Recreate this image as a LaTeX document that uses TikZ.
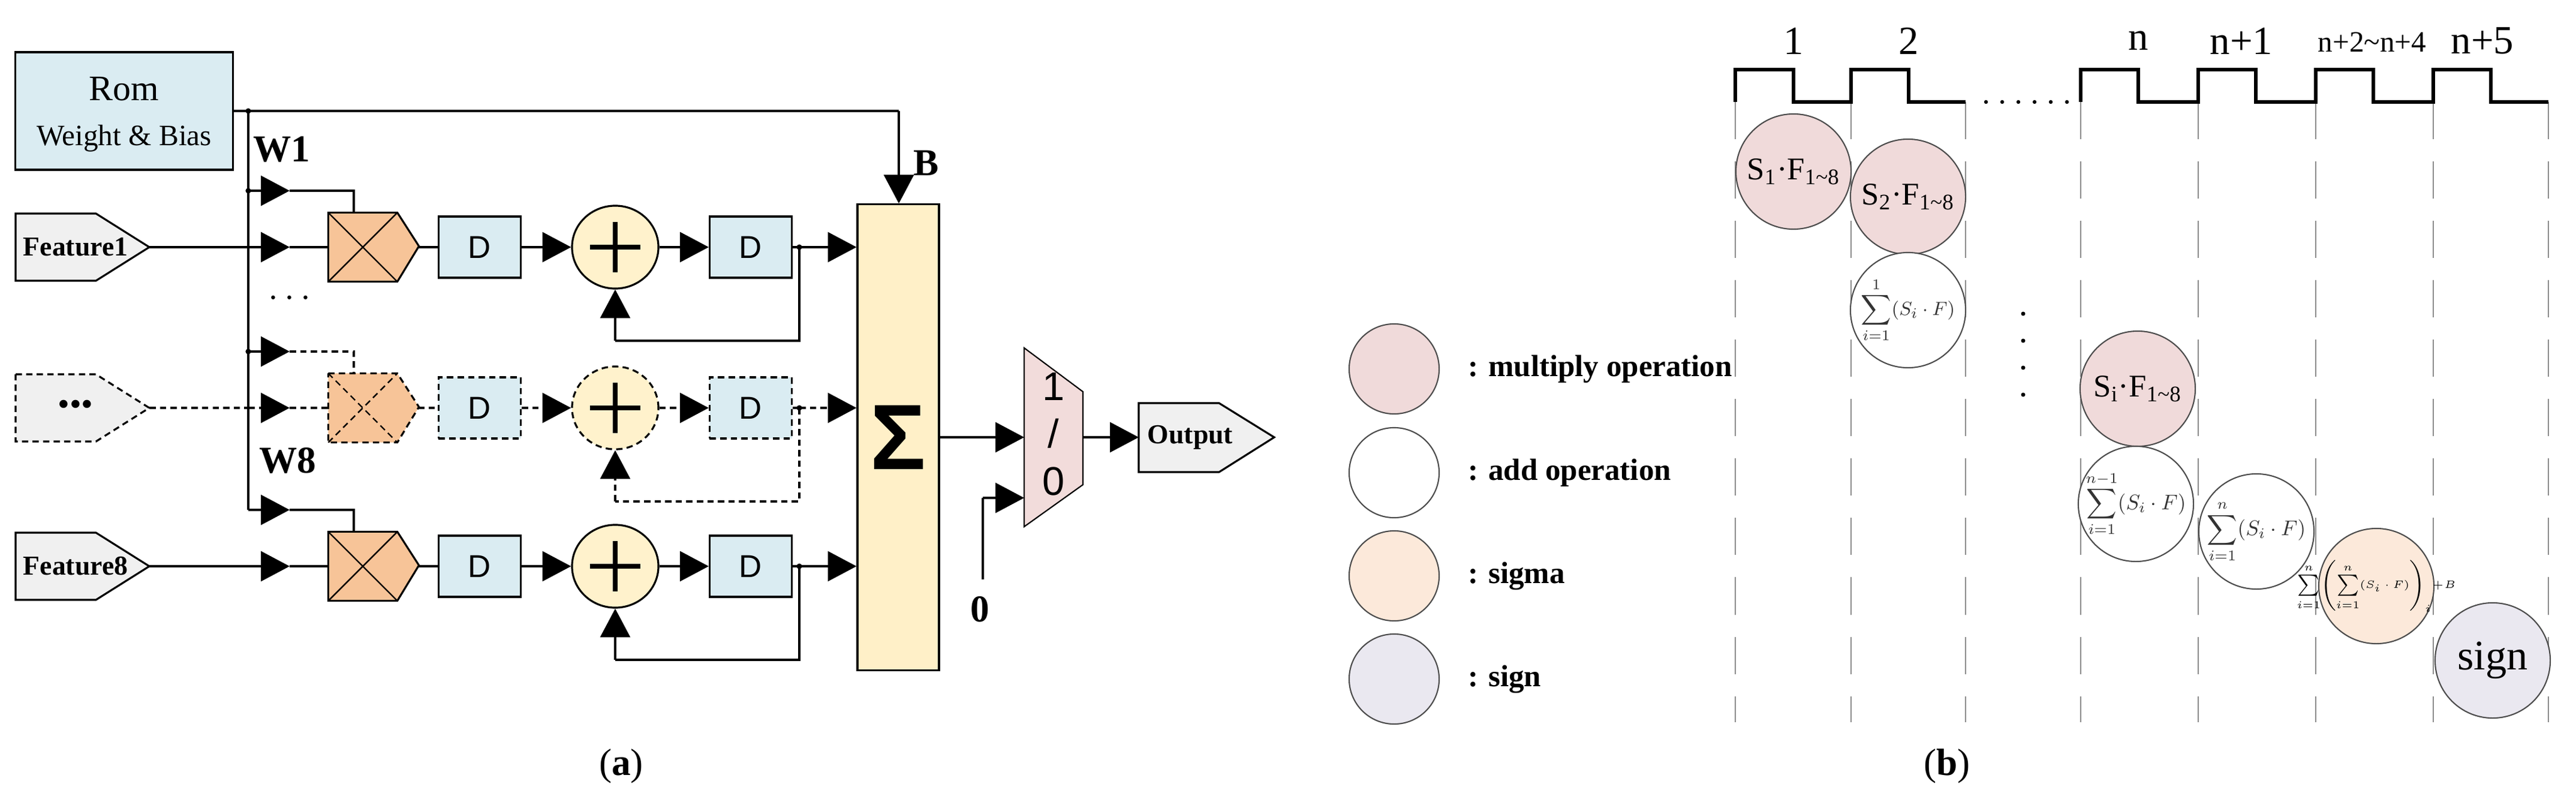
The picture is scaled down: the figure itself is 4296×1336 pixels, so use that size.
\documentclass[tikz,border=0pt]{standalone}
\usepackage{fontspec}
\setmainfont{Liberation Serif}
\setsansfont{Liberation Sans}
\usetikzlibrary{arrows.meta,shapes.geometric}
\definecolor{romb}{RGB}{218,236,242}
\definecolor{featg}{RGB}{240,240,240}
\definecolor{mulo}{RGB}{247,196,152}
\definecolor{addy}{RGB}{255,242,204}
\definecolor{sumy}{RGB}{255,240,200}
\definecolor{muxp}{RGB}{242,220,219}
\definecolor{lpink}{RGB}{240,218,218}
\definecolor{lpeach}{RGB}{252,233,218}
\definecolor{llav}{RGB}{234,232,240}
\begin{document}
\begin{tikzpicture}[x=0.01cm,y=-0.01cm,line width=0.9pt,
  arr/.style={-{Triangle[length=13.6pt,width=14.2pt]}},
  dsh/.style={dash pattern=on 3pt off 2pt},
  dbox/.style={rectangle,draw,fill=romb,inner sep=0pt,minimum width=13.7mm,minimum height=10.2mm,font=\sffamily\fontsize{15}{15}\selectfont},
  adder/.style={ellipse,draw,fill=addy,inner sep=0pt,minimum width=14.4mm,minimum height=13.8mm},
  dot/.style={circle,fill,inner sep=0pt,minimum size=2.6pt},
  op/.style={circle,draw=black!70,line width=0.6pt,inner sep=0pt,minimum size=19.2mm},
  lg/.style={circle,draw=black!70,line width=0.6pt,inner sep=0pt,minimum size=15mm},
  lt/.style={anchor=west,font=\bfseries\fontsize{14.5}{16}\selectfont},
  bl/.style={font=\bfseries\fontsize{18}{18}\selectfont},
  clk/.style={font=\fontsize{19}{19}\selectfont}]
\useasboundingbox (0,0) rectangle (4296,1336);

% ---------------- panel (a) ----------------
\node[rectangle,draw,fill=romb,minimum width=36.2mm,minimum height=19.6mm] (rom) at (207,185) {};
\node[font=\fontsize{17}{17}\selectfont] (romt) at (207,148) {Rom};
\node[font=\fontsize{14}{14}\selectfont] (romw) at (207,231) {Weight \& Bias};
\node[bl] (w1) at (470,249) {W1};
\node[bl] (w8) at (480,768) {W8};
\node[bl] (bl) at (1545,272) {B};
\node[bl] (zero) at (1634,1016) {0};
\node[font=\bfseries\fontsize{18}{18}\selectfont] (dots1) at (483,498) {$\cdots$};

\node[rectangle,draw,fill=sumy,inner sep=0pt,minimum width=13.6mm,minimum height=77.6mm,
      font=\sffamily\bfseries\fontsize{44}{44}\selectfont] (sig) at (1498,729) {Σ};
\coordinate (j0) at (414,185);
\coordinate (bt) at (1499,185);
\draw (rom.east |- j0) -- (bt);
\draw[arr] (bt) -- (sig.north -| bt);
\node[dot] at (j0) {};

\foreach \r/\Y/\st/\txt in {1/412/solid/\textbf{Feature1},2/680/dsh/{\fontsize{16}{16}\selectfont\textbullet\textbullet\textbullet},3/944/solid/\textbf{Feature8}}{
  \draw[\st,fill=featg] (26,\Y-56) -- (160,\Y-56) -- (249,\Y) -- (160,\Y+56) -- (26,\Y+56) -- cycle;
  \node[font=\fontsize{13}{13}\selectfont] (f\r) at (126,\Y) {\txt};
  \coordinate (fe\r) at (249,\Y);
  \coordinate (jb\r) at (414,\Y);
  \coordinate (ja\r) at (483,\Y);
  \coordinate (jw\r) at (414,\Y-94);
  \coordinate (aw\r) at (483,\Y-94);
  \coordinate (cw\r) at (590,\Y-94);
  % multiplier
  \node[rectangle,fill=mulo,inner sep=0pt,minimum width=11.2mm,minimum height=11.2mm] (m\r) at (605,\Y) {};
  \draw[\st,fill=mulo] (m\r.north west) -- (m\r.north east) -- ++(36,56) -- (m\r.south east) -- (m\r.south west) -- cycle;
  \draw[\st,line width=0.7pt] (m\r.north west) -- (m\r.south east) (m\r.south west) -- (m\r.north east);
  \coordinate (mt\r) at (697,\Y);
  \node[dbox,\st] (da\r) at (800,\Y) {D};
  \node[adder,\st] (ad\r) at (1026,\Y) {};
  \draw[line width=2.2pt] (ad\r.center) ++(0,-42) -- ++(0,84) (ad\r.center) ++(-42,0) -- ++(84,0);
  \node[dbox,\st] (db\r) at (1252,\Y) {D};
  \coordinate (dt\r) at (1333,\Y);
  \coordinate (fb\r) at (1333,\Y+156);
  \coordinate (fa\r) at (1026,\Y+156);
  % connectors
  \draw[\st] (fe\r) -- (jb\r);
  \draw[\st,arr] (jb\r) -- (ja\r);
  \draw[\st] (ja\r) -- (m\r.west);
  \draw[\st] (mt\r) -- (da\r.west);
  \draw[\st,arr] (da\r.east) -- (ad\r.west);
  \draw[\st,arr] (ad\r.east) -- (db\r.west);
  \draw[\st] (db\r.east) -- (dt\r);
  \draw[\st,arr] (dt\r) -- (sig.west |- dt\r);
  \node[dot] at (dt\r) {};
  \draw[\st] (dt\r) -- (fb\r) -- (fa\r);
  \draw[\st,arr] (fa\r) -- (ad\r.south);
  \draw[arr] (jw\r) -- (aw\r);
  \draw[\st] (aw\r) -- (cw\r) -- (cw\r |- m\r.north);
}
\draw (j0) -- (jw3);
\node[dot] at (jw1) {};
\node[dot] at (jw2) {};

% mux
\coordinate (mx1) at (1708,580);
\coordinate (mx2) at (1806,653);
\coordinate (mx3) at (1806,808);
\coordinate (mx4) at (1708,878);
\draw[fill=muxp,line width=0.6pt] (mx1) -- (mx2) -- (mx3) -- (mx4) -- cycle;
\node[font=\sffamily\fontsize{19}{19}\selectfont] (mxa) at (1757,645) {1};
\node[font=\sffamily\fontsize{19}{19}\selectfont] (mxb) at (1757,723) {/};
\node[font=\sffamily\fontsize{19}{19}\selectfont] (mxc) at (1757,802) {0};
\coordinate (mi1) at (1708,729);
\coordinate (mi2) at (1708,830);
\coordinate (z1) at (1639,966);
\coordinate (z2) at (1639,830);
\coordinate (mo) at (1806,729);
\draw[arr] (sig.east) -- (mi1);
\draw (z1) -- (z2);
\draw[arr] (z2) -- (mi2);
\draw[fill=featg] (1899,672) -- (2033,672) -- (2125,729) -- (2033,787) -- (1899,787) -- cycle;
\coordinate (ow) at (1899,729);
\node[font=\bfseries\fontsize{13}{13}\selectfont] (out) at (1985,729) {Output};
\draw[arr] (mo) -- (ow);

\node[font=\fontsize{18}{18}\selectfont] (capa) at (1036,1277) {(\textbf{a})};

% ---------------- panel (b) ----------------
\foreach \x in {2894,3087,3278,3470,3666,3862,4058,4250}{
  \draw[black!45,line width=0.8pt,dash pattern=on 6.2mm off 3.7mm] (\x,170) -- (\x,1204);
}
\draw[line width=1.5pt] (3278,170) -- (3183,170) -- (3183,116) -- (3087,116) -- (3087,170) -- (2991,170) -- (2991,116) -- (2894,116) -- (2894,170);
\draw[line width=1.5pt] (3470,170) -- (3470,116) -- (3566,116) -- (3566,170) -- (3666,170) -- (3666,116) -- (3762,116) -- (3762,170) -- (3862,170) -- (3862,116) -- (3958,116) -- (3958,170) -- (4058,170) -- (4058,116) -- (4154,116) -- (4154,170) -- (4250,170);
\foreach \i in {0,...,5}{ \fill (3312+\i*27,170) circle (3.2); }
\node[clk] (c1) at (2991,68) {1};
\node[clk] (c2) at (3183,68) {2};
\node[clk] (cn) at (3566,68) {n};
\node[clk] (cn1) at (3738,68) {n+1};
\node[font=\fontsize{14}{14}\selectfont] (cn2) at (3956,70) {n+2\textasciitilde n+4};
\node[clk] (cn5) at (4140,68) {n+5};
\foreach \yy in {523,568,613,658}{ \fill (3374,\yy) circle (3.5); }

\node[op,fill=lpink] (s1) at (2991,286) {};
\node[op,fill=lpink] (s2) at (3182,328) {};
\node[op,fill=white] (a1) at (3182,517) {};
\node[op,fill=lpink] (si) at (3565,648) {};
\node[op,fill=white] (an1) at (3562,840) {};
\node[op,fill=white] (an) at (3763,886) {};
\node[op,fill=lpeach] (sg) at (3963,977) {};
\node[op,fill=llav] (sn) at (4157,1101) {};
\node[font=\fontsize{15}{15}\selectfont] at (s1) {S\textsubscript{1}·F\textsubscript{1\textasciitilde 8}};
\node[font=\fontsize{15}{15}\selectfont] at (s2) {S\textsubscript{2}·F\textsubscript{1\textasciitilde 8}};
\node[font=\fontsize{9.5}{9.5}\selectfont,color=black!80,inner sep=0pt] at (a1) {$\displaystyle\sum_{i=1}^{1}(S_i\cdot F)$};
\node[font=\fontsize{15}{15}\selectfont] at (si) {S\textsubscript{i}·F\textsubscript{1\textasciitilde 8}};
\node[font=\fontsize{10}{10}\selectfont,color=black!80,inner sep=0pt] at (an1) {$\displaystyle\sum_{i=1}^{n-1}(S_i\cdot F)$};
\node[font=\fontsize{10}{10}\selectfont,color=black!80,inner sep=0pt] at (an) {$\displaystyle\sum_{i=1}^{n}(S_i\cdot F)$};
\node[font=\fontsize{5}{5}\selectfont,inner sep=0pt] at (sg) {$\sum\limits_{i=1}^{n}\Bigl(\sum\limits_{i=1}^{n}(S_i\cdot F)\Bigr)_i\!+\!B$};
\node[font=\fontsize{20}{20}\selectfont] at (sn) {sign};

\node[lg,fill=lpink] (l1) at (2325,615) {};
\node[lg,fill=white] (l2) at (2325,788) {};
\node[lg,fill=lpeach] (l3) at (2325,960) {};
\node[lg,fill=llav] (l4) at (2325,1132) {};
\node[lt] (t1) at (2435,615) {: multiply operation};
\node[lt] (t2) at (2435,788) {: add operation};
\node[lt] (t3) at (2435,960) {: sigma};
\node[lt] (t4) at (2435,1132) {: sign};

\node[font=\fontsize{18}{18}\selectfont] (capb) at (3247,1277) {(\textbf{b})};
\end{tikzpicture}
\end{document}
